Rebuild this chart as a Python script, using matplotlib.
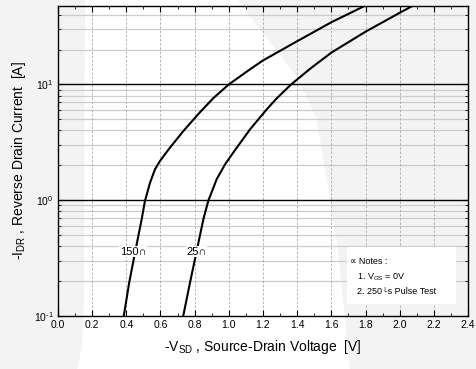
import matplotlib
matplotlib.use('Agg')
import matplotlib.pyplot as plt
from matplotlib.patches import Polygon, Rectangle
from matplotlib.ticker import FixedLocator, FixedFormatter, NullFormatter, MultipleLocator
import numpy as np

plt.rcParams['font.family'] = ['Liberation Sans', 'DejaVu Sans']
plt.rcParams['mathtext.fontset'] = 'custom'
plt.rcParams['mathtext.rm'] = 'Liberation Sans'
plt.rcParams['mathtext.it'] = 'Liberation Sans'

# curve data
v150 = [0.385, 0.417, 0.451, 0.49, 0.509, 0.539, 0.568, 0.597, 0.626, 0.656, 0.734, 0.831,
        0.909, 1.0, 1.124, 1.2, 1.4, 1.6, 1.8]
i150 = [0.1, 0.195, 0.354, 0.686, 0.986, 1.42, 1.85, 2.18, 2.49, 2.85, 3.96, 5.75,
        7.6, 10.0, 13.5, 16.1, 23.6, 34.4, 48.0]
v25 = [0.733, 0.773, 0.812, 0.851, 0.88, 0.929, 0.978, 1.026, 1.124, 1.222, 1.28, 1.365,
       1.48, 1.6, 1.8, 2.0, 2.08]
i25 = [0.1, 0.195, 0.365, 0.686, 0.99, 1.52, 2.04, 2.58, 4.09, 6.09, 7.57, 10.0,
       13.8, 18.8, 28.5, 41.5, 48.0]

xticks = [0.0, 0.2, 0.4, 0.6, 0.8, 1.0, 1.2, 1.4, 1.6, 1.8, 2.0, 2.2, 2.4]
yticks = [0.1, 1.0, 10.0]
ylabels = ['$10^{\u2010 1}$', r'$10^{0}$', r'$10^{1}$']
notes = ['\u221d Notes :', '1. V$_{GS}$ = 0V', '2. 250 \u1d38s Pulse Test']

W, H = 477, 369
fig = plt.figure(figsize=(W / 100, H / 100), dpi=100, facecolor='#f3f3f3')

# light watermark shape behind the chart
wm = [(85, 0), (237, 0), (297, 77), (317, 120), (330, 200), (338, 250), (350, 369),
      (77, 369), (82, 347), (84, 300)]
fig.patches.append(Polygon([(x / W, 1 - y / H) for x, y in wm], closed=True,
                           transform=fig.transFigure, facecolor='white', edgecolor='none', zorder=-5))

ax = fig.add_axes([58 / W, 1 - 316 / H, 410 / W, 310.5 / H])
ax.set_zorder(2)
ax.patch.set_alpha(0)

ax.set_xlim(0, 2.4)
ax.set_yscale('log')
ax.set_ylim(0.1, 48)

# grid
minor_y = [m * 10.0 ** e for e in (-1, 0, 1) for m in range(2, 10) if m * 10.0 ** e < 48]
for yv in minor_y:
    ax.axhline(yv, color='#cccccc', lw=0.9, zorder=1)
for yv in yticks[1:]:
    ax.axhline(yv, color='black', lw=1.0, zorder=2)
for xv in xticks[1:-1]:
    ax.axvline(xv, color='#a8a8a8', lw=0.6, ls=(0, (3, 2)), zorder=1)

ax.plot(v150, i150, color='black', lw=1.5, zorder=3, solid_joinstyle='round')
ax.plot(v25, i25, color='black', lw=1.5, zorder=3, solid_joinstyle='round')

lab_kw = dict(fontsize=8, ha='center', va='center', zorder=4,
              bbox=dict(facecolor='white', edgecolor='none', pad=0.5))
ax.text(0.44, 0.36, '150\u2229', **lab_kw)
ax.text(0.81, 0.36, '25\u2229', **lab_kw)

# notes box
ax.add_patch(Rectangle((347 / W, 1 - 304 / H), 109 / W, 57 / H, transform=fig.transFigure,
                       facecolor='white', edgecolor='none', zorder=4))
ax.text(350 / W, 1 - 262 / H, notes[0], fontsize=6.5, va='center', zorder=5, transform=fig.transFigure)
ax.text(357 / W, 1 - 277 / H, notes[1], fontsize=6.5, va='center', zorder=5, transform=fig.transFigure)
ax.text(357 / W, 1 - 292 / H, notes[2], fontsize=6.5, va='center', zorder=5, transform=fig.transFigure)

# ticks
ax.xaxis.set_major_locator(FixedLocator(xticks))
ax.xaxis.set_minor_locator(MultipleLocator(0.1))
ax.set_xticklabels(['%.1f' % x for x in xticks])
ax.yaxis.set_major_locator(FixedLocator(yticks))
ax.yaxis.set_major_formatter(FixedFormatter(ylabels))
ax.yaxis.set_minor_locator(FixedLocator(minor_y))
ax.yaxis.set_minor_formatter(NullFormatter())
ax.tick_params(which='both', direction='in', top=True, right=True, labelsize=7.5, color='black')
ax.tick_params(which='major', length=4, width=0.8, pad=3)
ax.tick_params(which='minor', length=2, width=0.6)
for s in ax.spines.values():
    s.set_linewidth(1.0)

ax.set_xlabel('-V$_{SD}$ , Source-Drain Voltage  [V]', fontsize=10, labelpad=6)
ax.set_ylabel('-I$_{DR}$ , Reverse Drain Current  [A]', fontsize=10, labelpad=4)

fig.savefig('out.png', dpi=100, facecolor=fig.get_facecolor())
